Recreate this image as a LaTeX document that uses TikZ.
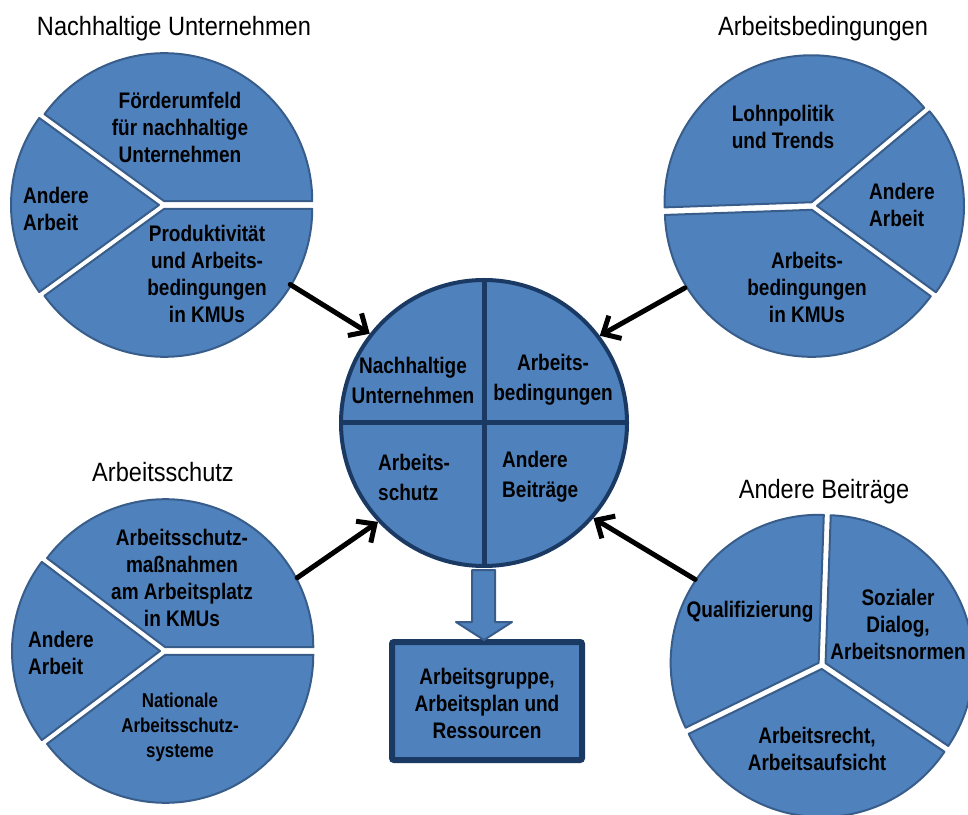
\documentclass[tikz,border=0pt]{standalone}
\usepackage{fontspec}
\setmainfont{Liberation Sans}[FakeStretch=0.89, BoldFeatures={FakeStretch=0.845}]
\usetikzlibrary{arrows.meta,calc}
\definecolor{pfill}{HTML}{4F81BD}
\definecolor{pline}{HTML}{385D8A}
\definecolor{navy}{HTML}{1B3A63}
\tikzset{
  slice/.style={fill=pfill, draw=pline, line width=2pt, line join=round},
  lbl/.style={font=\fontsize{22.5}{27}\selectfont\bfseries, align=center, inner sep=0pt},
  lbll/.style={lbl, align=left, anchor=west},
  smalllbl/.style={font=\fontsize{20}{25}\selectfont\bfseries, align=center, inner sep=0pt},
  ctitle/.style={font=\fontsize{26.5}{30}\selectfont, anchor=base, inner sep=0pt},
  clbl/.style={font=\fontsize{22.5}{30}\selectfont\bfseries},
  linkarrow/.style={line width=5pt, -{Straight Barb[length=14pt,width=26pt,line width=5pt]}, line cap=round},
  blockarrow/.style={fill=pfill, draw=pline, line width=2pt, line join=round},
}
\newcommand{\pieslice}[5]{%
  \pgfmathsetmacro{\midang}{(#3+#4)/2}%
  \begin{scope}[shift={($(#1)+(\midang:#5)$)}]
    \filldraw[slice] (0,0) -- (#3:#2) arc[start angle=#3, end angle=#4, radius=#2] -- cycle;
  \end{scope}}
\begin{document}
\begin{tikzpicture}[x=1pt,y=1pt]
\useasboundingbox (0,0) rectangle (968,814);
% pie centres
\coordinate (tl) at (163,609);
\coordinate (tr) at (813,608);
\coordinate (bl) at (164,163);
\coordinate (br) at (822,149);
% top-left pie
\pieslice{tl}{148}{0}{144}{4}
\pieslice{tl}{148}{144}{216}{4}
\pieslice{tl}{148}{216}{360}{4}
% top-right pie
\pieslice{tr}{147}{40}{182}{4}
\pieslice{tr}{147}{182}{324}{4}
\pieslice{tr}{147}{324}{400}{4}
% bottom-left pie
\pieslice{bl}{148}{0}{143}{4}
\pieslice{bl}{148}{143}{217}{4}
\pieslice{bl}{148}{217}{360}{4}
% bottom-right pie
\pieslice{br}{148}{88}{206}{4}
\pieslice{br}{148}{206}{326}{4}
\pieslice{br}{148}{326}{448}{4}
% titles
\node[ctitle] (ttl) at (174,778) {Nachhaltige Unternehmen};
\node[ctitle] (ttr) at (823,778) {Arbeitsbedingungen};
\node[ctitle] (tbl) at (163,332) {Arbeitsschutz};
\node[ctitle] (tbr) at (824,315) {Andere Beiträge};
% pie labels
\node[lbl] (tlF) at (180,687) {Förderumfeld\\für nachhaltige\\Unternehmen};
\node[lbll] (tlA) at (23,605) {Andere\\Arbeit};
\node[lbl] (tlP) at (207,540) {Produktivität\\und Arbeits-\\bedingungen\\in KMUs};
\node[lbl] (trL) at (783,687) {Lohnpolitik\\und Trends};
\node[lbll] (trA) at (869,609) {Andere\\Arbeit};
\node[lbl] (trB) at (807,527) {Arbeits-\\bedingungen\\in KMUs};
\node[lbl] (blM) at (182,236) {Arbeitsschutz-\\maßnahmen\\am Arbeitsplatz\\in KMUs};
\node[lbll] (blA) at (28,161) {Andere\\Arbeit};
\node[smalllbl] (blN) at (180,87) {Nationale\\Arbeitsschutz-\\systeme};
\node[lbl] (brQ) at (750,202) {Qualifizierung};
\node[lbl] (brS) at (898,190) {Sozialer\\Dialog,\\Arbeitsnormen};
\node[lbl] (brR) at (817,65) {Arbeitsrecht,\\Arbeitsaufsicht};
% central circle
\node[circle, draw=navy, line width=4pt, fill=pfill, minimum size=286pt, inner sep=0pt] (cc) at (484,391) {};
\draw[navy, line width=5pt] (cc.north) -- (cc.south);
\draw[navy, line width=5pt] (cc.west) -- (cc.east);
\node[lbl, clbl] (cNU) at (413,434) {Nachhaltige\\Unternehmen};
\node[lbl, clbl] (cAB) at (553,434) {Arbeits-\\bedingungen};
\node[lbll, clbl] (cAS) at (378,337) {Arbeits-\\schutz};
\node[lbll, clbl] (cAnB) at (502,337) {Andere\\Beiträge};
% connector start points on the pies
\coordinate (tlout) at ($(tl)+(-32:150)$);
\coordinate (trout) at ($(tr)+(212.6:152)$);
\coordinate (blout) at ($(bl)+(28.8:152)$);
\coordinate (brout) at ($(br)+(146:153)$);
\draw[linkarrow] (tlout) -- (cc.142);
\draw[linkarrow] (trout) -- (cc.37);
\draw[linkarrow] (blout) -- (cc.223);
\draw[linkarrow] (brout) -- (cc.319);
% result box
\node[draw=navy, line width=6pt, fill=pfill, rounded corners=2pt, minimum width=190pt, minimum height=118pt, inner sep=0pt] (box) at (487,113) {};
\node[lbl] (boxt) at (487,111) {Arbeitsgruppe,\\Arbeitsplan und\\Ressourcen};
% block arrow
\draw[blockarrow] (472,244) -- (495,244) -- (495,192) -- (512,192) -- (484,174) -- (456,192) -- (472,192) -- cycle;
\end{tikzpicture}
\end{document}
